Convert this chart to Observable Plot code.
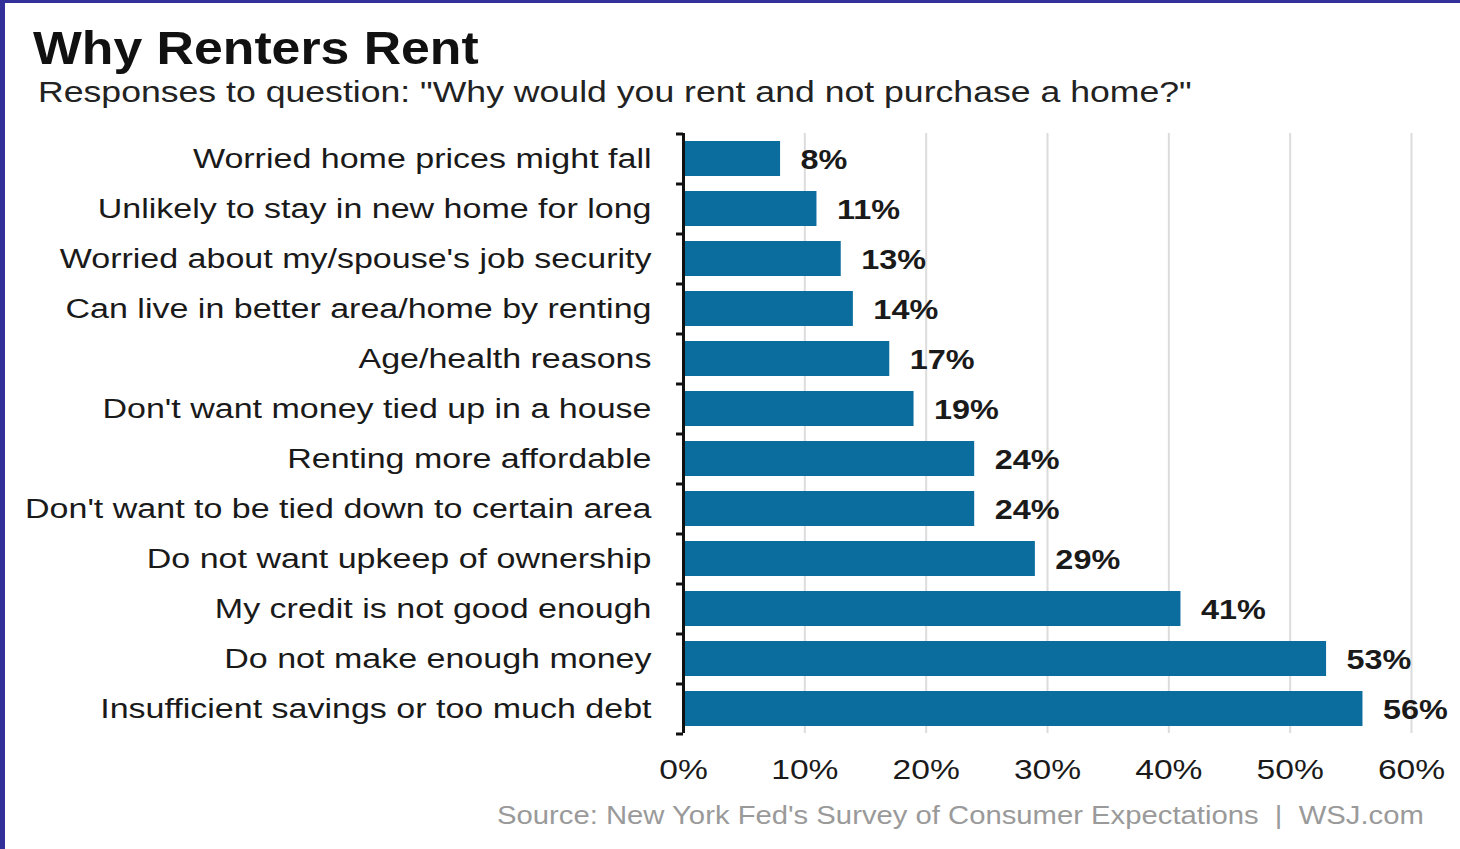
<!DOCTYPE html>
<html>
<head>
<meta charset="utf-8">
<script src="https://cdn.jsdelivr.net/npm/d3@7"></script>
<script src="https://cdn.jsdelivr.net/npm/@observablehq/plot@0.6"></script>
<style>
  html, body { margin: 0; padding: 0; background: #fff; }
  body { width: 1460px; height: 849px; overflow: hidden; position: relative; font-family: "Liberation Sans", Arial, sans-serif; }
  #frame { position: absolute; left: 0; top: 0; width: 1460px; height: 849px; box-sizing: border-box; border-left: 5px solid #34309a; border-top: 3px solid #34309a; }
  #title { position: absolute; left: 33px; top: 21px; font-size: 46px; font-weight: bold; color: #111; white-space: nowrap; transform: scaleX(1.125); transform-origin: 0 0; }
  #subtitle { position: absolute; left: 38px; top: 76px; font-size: 29px; color: #222; white-space: nowrap; transform: scaleX(1.228); transform-origin: 0 0; }
  #chart { position: absolute; left: 0; top: 120px; }
  #caption { position: absolute; left: 497px; top: 801px; font-size: 25px; color: #9a9a9a; white-space: nowrap; transform: scaleX(1.17); transform-origin: 0 0; }
</style>
</head>
<body>
<div id="frame"></div>
<div id="title">Why Renters Rent</div>
<div id="subtitle">Responses to question: "Why would you rent and not purchase a home?"</div>
<div id="chart"></div>
<div id="caption">Source: New York Fed's Survey of Consumer Expectations &nbsp;|&nbsp; WSJ.com</div>
<script>
const reasons = [
  "Worried home prices might fall",
  "Unlikely to stay in new home for long",
  "Worried about my/spouse's job security",
  "Can live in better area/home by renting",
  "Age/health reasons",
  "Don't want money tied up in a house",
  "Renting more affordable",
  "Don't want to be tied down to certain area",
  "Do not want upkeep of ownership",
  "My credit is not good enough",
  "Do not make enough money",
  "Insufficient savings or too much debt"
];
const shares = [8, 11, 13, 14, 17, 19, 24, 24, 29, 41, 53, 56];
const xTicks = [0, 10, 20, 30, 40, 50, 60];

const data = reasons.map((r, i) => ({reason: r, value: shares[i] / 100}));

const W = 1460, H = 673, mT = 13, mB = 60, mL = 683, mR = 49;
const step = (H - mT - mB) / reasons.length;
const barColor = "#0b6c9e";

const chart = Plot.plot({
  width: W,
  height: H,
  marginTop: mT,
  marginBottom: mB,
  marginLeft: mL,
  marginRight: mR,
  style: {fontFamily: "Liberation Sans, Arial, sans-serif", background: "transparent", overflow: "visible"},
  x: {domain: [0, 0.6], ticks: xTicks.map(d => d / 100), tickFormat: d => Math.round(d * 100) + "%", label: null},
  y: {domain: reasons, paddingInner: 0.3, paddingOuter: 0.15, label: null},
  marks: [
    Plot.gridX(xTicks.slice(1).map(d => d / 100), {stroke: "#dcdcdc", strokeOpacity: 1, strokeWidth: 2}),
    Plot.barX(data, {y: "reason", x: "value", fill: barColor}),
    Plot.ruleX([0], {stroke: "#111", strokeWidth: 3}),
    Plot.ruleY(reasons, {y: d => d, x1: 0, x2: 0, insetLeft: -7, dy: -step / 2, stroke: "#111", strokeWidth: 3}),
    Plot.ruleY(reasons.slice(-1), {y: d => d, x1: 0, x2: 0, insetLeft: -7, dy: step / 2, stroke: "#111", strokeWidth: 3}),
    Plot.text(data, {y: "reason", x: "value", text: d => Math.round(d.value * 100) + "%", textAnchor: "start", dx: 20, dy: 1, fontSize: 27, fontWeight: "bold", fill: "#1a1a1a"}),
    Plot.axisY({tickSize: 0, tickPadding: 32, fontSize: 28, label: null, color: "#1a1a1a", className: "ylab"}),
    Plot.axisX({ticks: xTicks.map(d => d / 100), tickFormat: d => Math.round(d * 100) + "%", tickSize: 0, tickPadding: 26, fontSize: 28, label: null, color: "#1a1a1a"})
  ]
});

// widen glyphs horizontally, as in the reference's stretched typography
chart.querySelectorAll("text").forEach(t => {
  const s = t.getAttribute("text-anchor") === "end" || (t.parentNode && t.parentNode.getAttribute("text-anchor") === "end") ? 1.215 : 1.2;
  const tr = t.getAttribute("transform");
  if (tr) {
    t.setAttribute("transform", tr + ` scale(${s},1)`);
  } else {
    const x = +(t.getAttribute("x") || 0), y = +(t.getAttribute("y") || 0);
    t.removeAttribute("x"); t.removeAttribute("y");
    t.setAttribute("transform", `translate(${x},${y}) scale(${s},1)`);
  }
});
document.getElementById("chart").appendChild(chart);
</script>
</body>
</html>
